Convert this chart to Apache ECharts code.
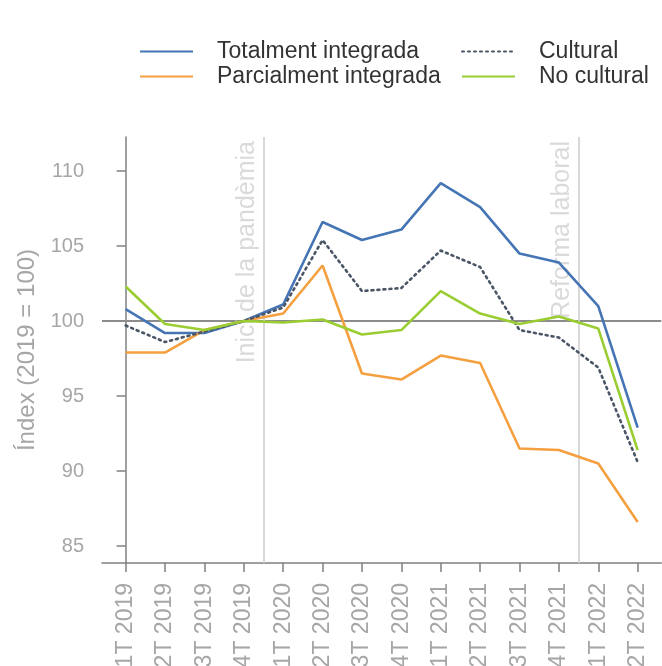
<!DOCTYPE html>
<html>
<head>
<meta charset="utf-8">
<script src="https://cdn.jsdelivr.net/npm/echarts@6/dist/echarts.min.js"></script>
<style>
html,body{margin:0;padding:0;background:#fff;}
#c{width:662px;height:666px;}
</style>
</head>
<body>
<div id="c"></div>
<script>
const categories = ['1T 2019','2T 2019','3T 2019','4T 2019','1T 2020','2T 2020','3T 2020','4T 2020','1T 2021','2T 2021','3T 2021','4T 2021','1T 2022','2T 2022'];
const totalmentIntegrada = [100.8, 99.2, 99.2, 100.0, 101.1, 106.6, 105.4, 106.1, 109.2, 107.6, 104.5, 103.9, 101.0, 92.9];
const parcialmentIntegrada = [97.9, 97.9, 99.4, 100.0, 100.5, 103.7, 96.5, 96.1, 97.7, 97.2, 91.5, 91.4, 90.5, 86.6];
const cultural = [99.7, 98.6, 99.3, 100.0, 100.9, 105.4, 102.0, 102.2, 104.7, 103.6, 99.4, 98.9, 96.9, 90.6];
const noCultural = [102.3, 99.8, 99.4, 100.0, 99.9, 100.1, 99.1, 99.4, 102.0, 100.5, 99.8, 100.3, 99.5, 91.4];
const yTicks = [85, 90, 95, 100, 105, 110];
const events = [{x: 3.5, label: 'Inici de la pandèmia'}, {x: 11.5, label: 'Reforma laboral'}];

const FONT = 'Liberation Sans, Arial, sans-serif';
const toPairs = arr => arr.map((v, i) => [i, v]);
const idx = categories.map((c, i) => i);

const chart = echarts.init(document.getElementById('c'), null, {renderer: 'canvas'});
const lineSeries = (name, data, color, type) => ({
  name, type: 'line', data: toPairs(data), symbol: 'none', z: 5,
  lineStyle: {color, width: 2.6, type: type || 'solid', cap: type ? 'round' : 'butt'},
  itemStyle: {color}
});
const legendBase = {
  orient: 'vertical', top: 35, itemWidth: 53, itemHeight: 14, itemGap: 2,
  itemStyle: {opacity: 0},
  textStyle: {fontSize: 23, color: '#333', fontFamily: FONT, padding: [0, 0, 0, 19], lineHeight: 23}
};
chart.setOption({
  animation: false,
  backgroundColor: '#fff',
  textStyle: {fontFamily: FONT},
  grid: {left: 102, right: 0.7, top: 137, bottom: 103, containLabel: false, outerBoundsMode: 'none'},
  legend: [
    Object.assign({data: ['Totalment integrada', 'Parcialment integrada'], left: 134}, legendBase),
    Object.assign({data: ['Cultural', 'No cultural'], left: 456}, legendBase)
  ],
  xAxis: {
    type: 'value', min: -0.6, max: 13.6,
    axisLine: {show: true, onZero: false, lineStyle: {color: '#808080', width: 1.5}},
    axisTick: {show: true, customValues: idx, length: 9, lineStyle: {color: '#808080', width: 1.5}},
    axisLabel: {customValues: idx, rotate: 90, margin: 20, fontSize: 23, color: '#a6a6a6', fontFamily: FONT,
      formatter: v => categories[Math.round(v)]},
    splitLine: {show: false}
  },
  yAxis: {
    type: 'value', min: 83.87, max: 112.27,
    name: 'Índex (2019 = 100)', nameLocation: 'middle', nameGap: 56, nameRotate: 90,
    nameTextStyle: {fontSize: 24, color: '#a6a6a6', fontFamily: FONT},
    axisLine: {show: true, lineStyle: {color: '#808080', width: 1.5}},
    axisTick: {show: true, customValues: yTicks, length: 9, lineStyle: {color: '#808080', width: 1.5}},
    axisLabel: {customValues: yTicks, margin: 18, fontSize: 20, color: '#a6a6a6', fontFamily: FONT},
    splitLine: {show: false}
  },
  series: [
    {
      type: 'line', data: [], z: 2, silent: true,
      markLine: {
        symbol: 'none', silent: true,
        data: [
          {yAxis: 100, lineStyle: {color: '#8c8c8c', width: 2, type: 'solid'}, label: {show: false}},
          ...events.map(e => ({xAxis: e.x, lineStyle: {color: '#d4d4d4', width: 1.8, type: 'solid'},
            label: {show: true, formatter: e.label, position: 'insideEndTop', fontSize: 25, color: '#dadada',
              fontFamily: FONT, distance: 4}}))
        ]
      }
    },
    lineSeries('Totalment integrada', totalmentIntegrada, '#4575b4'),
    lineSeries('Parcialment integrada', parcialmentIntegrada, '#f4a040'),
    lineSeries('Cultural', cultural, '#4a5566', [2, 4]),
    lineSeries('No cultural', noCultural, '#9acd32')
  ]
});
</script>
</body>
</html>
